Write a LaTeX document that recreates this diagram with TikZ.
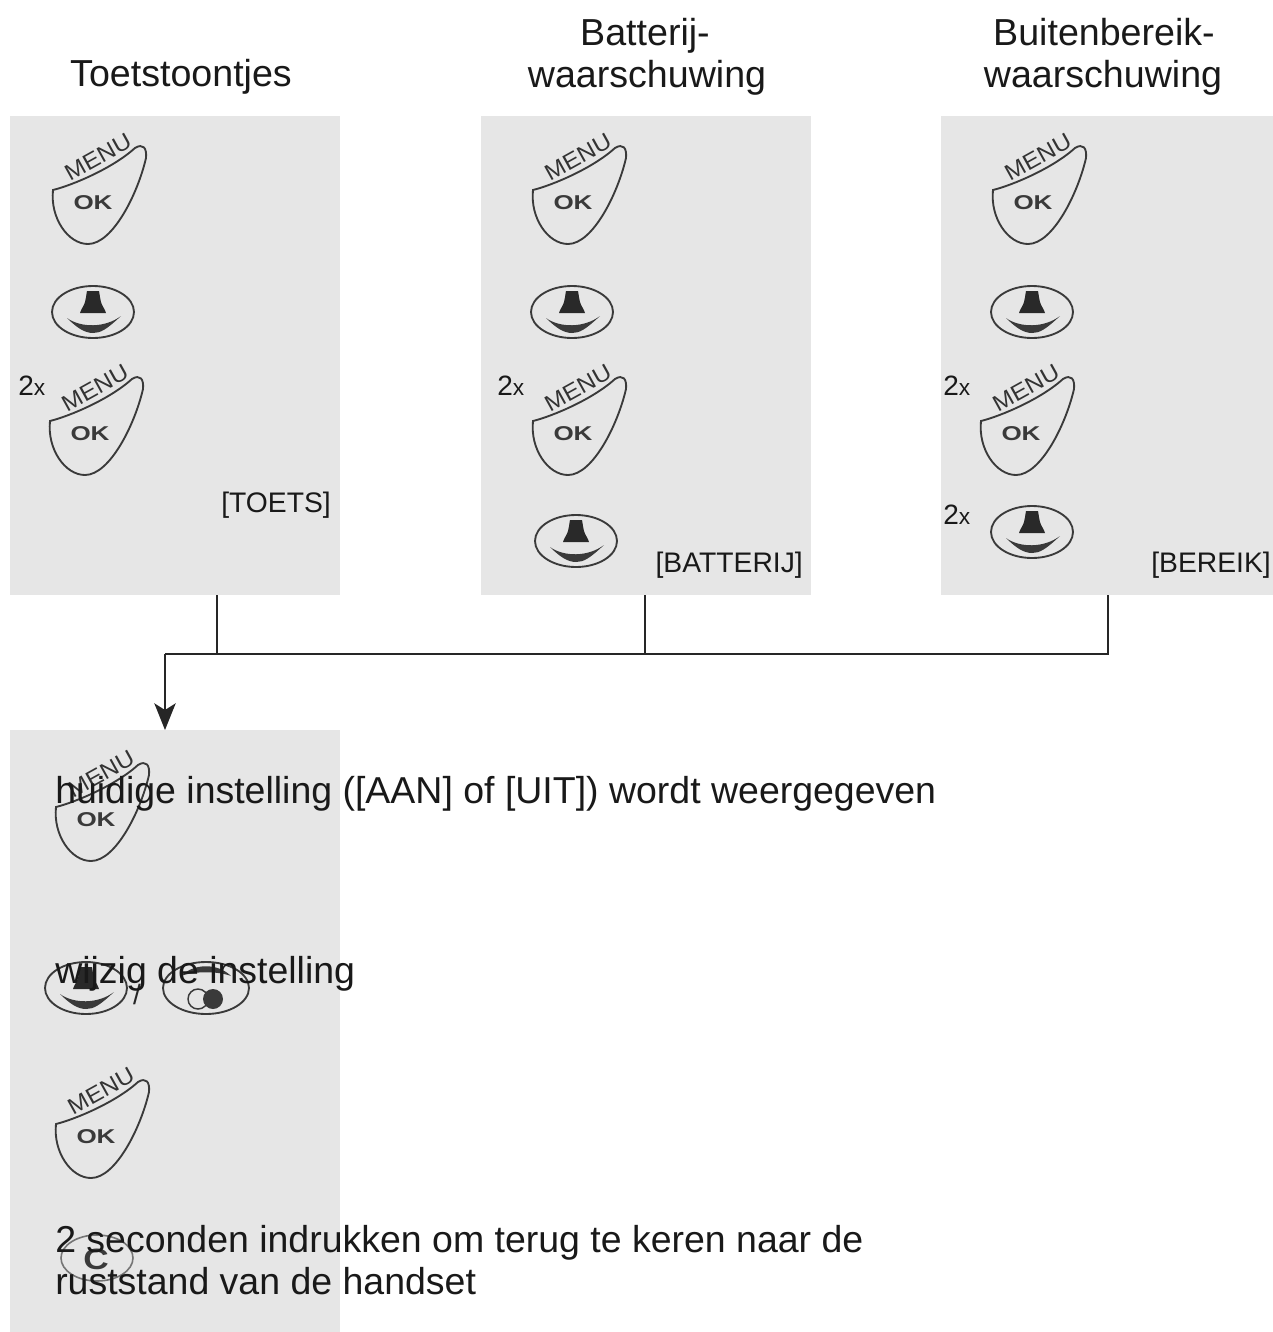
\documentclass[tikz,border=0pt]{standalone}
\usepackage{fontspec}
\setmainfont{Liberation Sans}
\usetikzlibrary{arrows.meta}
\definecolor{panelgrey}{HTML}{E6E6E6}
\definecolor{icon}{HTML}{3A3A3A}
\newcommand{\pxfont}[1]{\fontsize{#1}{#1}\selectfont}
\tikzset{
  panel/.style={fill=panelgrey,draw=none,anchor=north west,inner sep=0pt,outer sep=0pt},
  heading/.style={font=\pxfont{28.2},inner sep=0pt,anchor=base,text=black!90},
  label/.style={font=\pxfont{21.2},inner sep=0pt,anchor=base east,text=black!90},
  times/.style={font=\pxfont{21},inner sep=0pt,anchor=base west,text=black!90},
  note/.style={font=\pxfont{28.1},inner sep=0pt,anchor=base west,text=black!90},
  iconline/.style={draw=icon,line width=1.4pt},
  connector/.style={draw=black!85,line width=1.4pt},
  pics/okbtn/.style={code={
    \draw[iconline] (-40,-13) .. controls (-20,-18) and (20,-35) .. (42,-55)
      .. controls (50,-60) and (54,-55) .. (53,-45)
      .. controls (45,-10) and (20,41) .. (-5,41)
      .. controls (-25,41) and (-43,15) .. (-40,-13) -- cycle;
    \node[font=\bfseries\pxfont{15},text=icon,inner sep=0pt,xscale=1.3] (-ok) at (0,0) {OK};
    \node[font=\pxfont{17},text=black!80,inner sep=0pt,rotate=29,xscale=1.08] (-menu) at (5,-46) {MENU};
  }},
  pics/upbtn/.style={code={
    \draw[iconline] (0,0) ellipse [x radius=41,y radius=26];
    \fill[icon!70!black] (-6,-21) -- (6,-21) .. controls (7,-16) and (7,-13) .. (8,-10)
      .. controls (9,-6) and (12,-3) .. (13,1) -- (-13,1)
      .. controls (-12,-3) and (-9,-6) .. (-8,-10)
      .. controls (-7,-13) and (-7,-16) .. (-6,-21) -- cycle;
    \fill[icon] (-26,6) .. controls (-12,16) and (12,16) .. (28,4)
      .. controls (14,17) and (8,21) .. (0,21)
      .. controls (-8,21) and (-16,16) .. (-26,6) -- cycle;
  }},
  pics/rightbtn/.style={code={
    \draw[iconline] (0,0) ellipse [x radius=43,y radius=26];
    \fill[icon] (-25,-12) .. controls (-12,-25) and (12,-25) .. (25,-12)
      .. controls (12,-17) and (-12,-17) .. (-25,-12) -- cycle;
    \draw[icon,line width=1.1pt] (-8,11) circle [radius=10];
    \fill[icon] (7,11) circle [radius=10];
  }},
  pics/cbtn/.style={code={
    \draw[draw=icon!70,line width=1.2pt] (1,-2) ellipse [x radius=36,y radius=23];
    \node[font=\bfseries\pxfont{22},text=icon,inner sep=0pt,xscale=1.2] (-c) at (0,-1) {C};
  }},
}
\begin{document}
\begin{tikzpicture}[x=.75pt,y=-.75pt]
\useasboundingbox (0,0) rectangle (1273,1332);
% panels
\node[panel,minimum width=247.5pt,minimum height=359.25pt] (p1) at (10,116) {};
\node[panel,minimum width=247.5pt,minimum height=359.25pt] (p2) at (481,116) {};
\node[panel,minimum width=249pt,minimum height=359.25pt] (p3) at (941,116) {};
\node[panel,minimum width=247.5pt,minimum height=452.25pt] (p4) at (10,730) {};
% headings
\node[heading] (h1) at (181,86) {Toetstoontjes};
\node[heading] (h2a) at (645,45) {Batterij-};
\node[heading] (h2b) at (647,87) {waarschuwing};
\node[heading] (h3a) at (1104,45) {Buitenbereik-};
\node[heading] (h3b) at (1103,87) {waarschuwing};
% column 1
\pic (a1) at (93,203) {okbtn};
\pic (a2) at (93,312) {upbtn};
\pic (a3) at (90,434) {okbtn};
\node[times] (ax) at (18,395) {2\pxfont{17}x};
\node[label] (al) at (331,512) {[TOETS]};
% column 2
\pic (b1) at (573,203) {okbtn};
\pic (b2) at (572,312) {upbtn};
\pic (b3) at (573,434) {okbtn};
\pic (b4) at (576,541) {upbtn};
\node[times] (bx) at (497,395) {2\pxfont{17}x};
\node[label] (bl) at (803,572) {[BATTERIJ]};
% column 3
\pic (c1) at (1033,203) {okbtn};
\pic (c2) at (1032,312) {upbtn};
\pic (c3) at (1021,434) {okbtn};
\pic (c4) at (1032,532) {upbtn};
\node[times] (cx) at (943,395) {2\pxfont{17}x};
\node[times] (cy) at (943,524) {2\pxfont{17}x};
\node[label] (cl) at (1271,572) {[BEREIK]};
% bottom panel
\pic (d1) at (96,820) {okbtn};
\pic (d2) at (86,988) {upbtn};
\node[font=\pxfont{21},text=black!85,inner sep=0pt] (dslash) at (137,994) {/};
\pic (d3) at (206,988) {rightbtn};
\pic (d4) at (96,1137) {okbtn};
\pic (d5) at (96,1260) {cbtn};
\node[note] (n1) at (55,803) {huidige instelling ([AAN] of [UIT]) wordt weergegeven};
\node[note] (n2) at (55,983) {wijzig de instelling};
\node[note] (n3) at (55,1252) {2 seconden indrukken om terug te keren naar de};
\node[note] (n4) at (55,1294) {ruststand van de handset};
% connectors
\coordinate (j1) at (217,654);
\coordinate (j2) at (645,654);
\coordinate (j3) at (1108,654);
\coordinate (bend) at (165,654);
\coordinate (tip) at (167,730);
\draw[connector] (p1.south -| j1) -- (j1);
\draw[connector] (p2.south -| j2) -- (j2);
\draw[connector] (p3.south -| j3) -- (j3) -- (bend);
\draw[connector,-{Stealth[length=20pt,width=16pt,inset=5pt]}] (bend) -- (bend |- tip);
\end{tikzpicture}
\end{document}
